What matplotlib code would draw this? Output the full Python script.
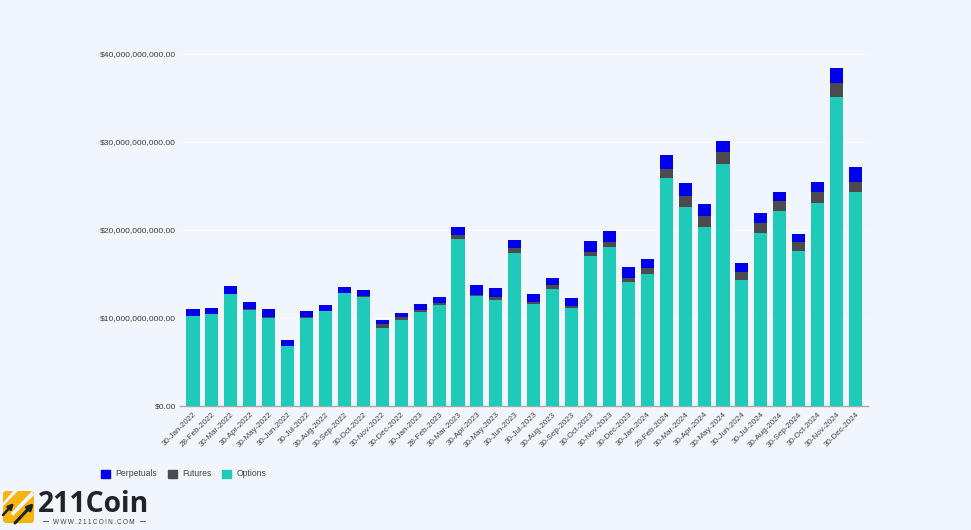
#!/usr/bin/env python3

import matplotlib
matplotlib.use("Agg")
import matplotlib.pyplot as plt
from matplotlib.patches import FancyBboxPatch, Patch, Polygon
import numpy as np

months = ["30-Jan-2022", "28-Feb-2022", "30-Mar-2022", "30-Apr-2022", "30-May-2022", "30-Jun-2022",
          "30-Jul-2022", "30-Aug-2022", "30-Sep-2022", "30-Oct-2022", "30-Nov-2022", "30-Dec-2022",
          "30-Jan-2023", "28-Feb-2023", "30-Mar-2023", "30-Apr-2023", "30-May-2023", "30-Jun-2023",
          "30-Jul-2023", "30-Aug-2023", "30-Sep-2023", "30-Oct-2023", "30-Nov-2023", "30-Dec-2023",
          "30-Jan-2024", "29-Feb-2024", "30-Mar-2024", "30-Apr-2024", "30-May-2024", "30-Jun-2024",
          "30-Jul-2024", "30-Aug-2024", "30-Sep-2024", "30-Oct-2024", "30-Nov-2024", "30-Dec-2024"]

# billions of USD
options = [10.2, 10.45, 12.7, 10.95, 10.05, 6.8, 10.05, 10.8, 12.8, 12.4, 8.9, 9.77,
           10.7, 11.45, 18.95, 12.45, 12.1, 17.4, 11.55, 13.35, 11.1, 17.0, 18.05, 14.1,
           15.05, 25.9, 22.6, 20.3, 27.5, 14.3, 19.66, 22.2, 17.6, 23.1, 35.1, 24.3]
futures = [0.05, 0.05, 0.05, 0.05, 0.05, 0.05, 0.05, 0.05, 0.05, 0.05, 0.4, 0.38,
           0.2, 0.22, 0.45, 0.15, 0.3, 0.5, 0.25, 0.4, 0.3, 0.55, 0.55, 0.5,
           0.65, 1.0, 1.3, 1.3, 1.4, 0.95, 1.15, 1.1, 1.0, 1.2, 1.6, 1.15]
perpetuals = [0.75, 0.67, 0.85, 0.8, 0.9, 0.65, 0.75, 0.65, 0.7, 0.75, 0.47, 0.45,
              0.65, 0.73, 0.9, 1.15, 1.05, 1.0, 0.9, 0.85, 0.85, 1.25, 1.3, 1.25,
              0.95, 1.6, 1.4, 1.35, 1.2, 1.0, 1.1, 1.0, 0.95, 1.15, 1.7, 1.75]
y_ticks = [0, 10, 20, 30, 40]
y_tick_labels = ["$0.00", "$10,000,000,000.00", "$20,000,000,000.00", "$30,000,000,000.00", "$40,000,000,000.00"]

BG = "#f1f5fc"
W, H = 971, 530

plt.rcParams["font.family"] = ["Liberation Sans", "DejaVu Sans"]

fig = plt.figure(figsize=(W / 100, H / 100), dpi=100, facecolor=BG)
ax = fig.add_axes([180 / W, 1 - 406 / H, (868 - 180) / W, (406 - 54) / H], facecolor=BG)

x = np.arange(len(months))
options = np.array(options)
futures = np.array(futures)
perpetuals = np.array(perpetuals)
bar_w = 0.69

ax.bar(x, options, bar_w, color="#1fcab8", label="Options", zorder=3)
ax.bar(x, futures, bar_w, bottom=options, color="#4a4a4f", label="Futures", zorder=3)
ax.bar(x, perpetuals, bar_w, bottom=options + futures, color="#0000ee", label="Perpetuals", zorder=3)

ax.set_xlim(-0.687, 35.66)
ax.set_ylim(0, 40)
ax.set_yticks(y_ticks)
ax.set_yticklabels(y_tick_labels, fontsize=6.1, color="#3c3c3c")
ax.set_xticks(x)
ax.set_xticklabels(months, fontsize=5.8, color="#444444", rotation=45, ha="right", rotation_mode="anchor")
ax.tick_params(axis="both", length=0)
ax.tick_params(axis="x", pad=3.5)
ax.tick_params(axis="y", pad=3)
ax.grid(axis="y", color="#f8faff", lw=1, zorder=0)
for s in ["top", "right", "left"]:
    ax.spines[s].set_visible(False)
ax.spines["bottom"].set_color("#a8a8a8")
ax.spines["bottom"].set_linewidth(1)

handles = [Patch(color="#0000ee", label="Perpetuals"),
           Patch(color="#4a4a4f", label="Futures"),
           Patch(color="#1fcab8", label="Options")]
fig.legend(handles=handles, loc="center left", bbox_to_anchor=(101 / W, 1 - 474 / H), ncol=3, frameon=False,
           fontsize=6.2, labelcolor="#444444", handlelength=1.05, handleheight=1.05, handletextpad=0.58,
           columnspacing=1.28, borderpad=0, borderaxespad=0)

# logo in pixel coords
logo = fig.add_axes([0, 0, 1, 1], facecolor="none")
logo.set_xlim(0, W)
logo.set_ylim(H, 0)
logo.axis("off")
logo.add_patch(FancyBboxPatch((6, 494), 25, 26, boxstyle="round,pad=3,rounding_size=3", fc="#f5b50e", ec="none"))
logo.add_patch(Polygon([[3, 506], [3, 503], [13, 491], [18, 491]], fc=BG, ec="none"))
logo.add_patch(Polygon([[11, 513], [13, 516], [34, 495], [32, 491]], fc=BG, ec="none"))
arrow_small = dict(arrowstyle="-|>", color="#222222", lw=1.8, mutation_scale=8, shrinkA=0, shrinkB=0)
arrow_big = dict(arrowstyle="-|>", color="#222222", lw=2.2, mutation_scale=9, shrinkA=0, shrinkB=0)
logo.annotate("", xy=(14, 503), xytext=(3, 515), arrowprops=arrow_small)
logo.annotate("", xy=(34, 503), xytext=(15, 523), arrowprops=arrow_big)
logo.text(38, 512.5, "211Coin", fontsize=20.3, fontweight="bold", color="#222228", family="Open Sans", va="baseline")
logo.text(94, 522, "\u2009".join("WWW.211COIN.COM"), fontsize=4.7, color="#444444", ha="center", va="center")
logo.plot([43, 48], [521, 521], color="#444444", lw=0.6)
logo.plot([140, 145], [521, 521], color="#444444", lw=0.6)

fig.savefig("out.png", dpi=100, facecolor=BG)
